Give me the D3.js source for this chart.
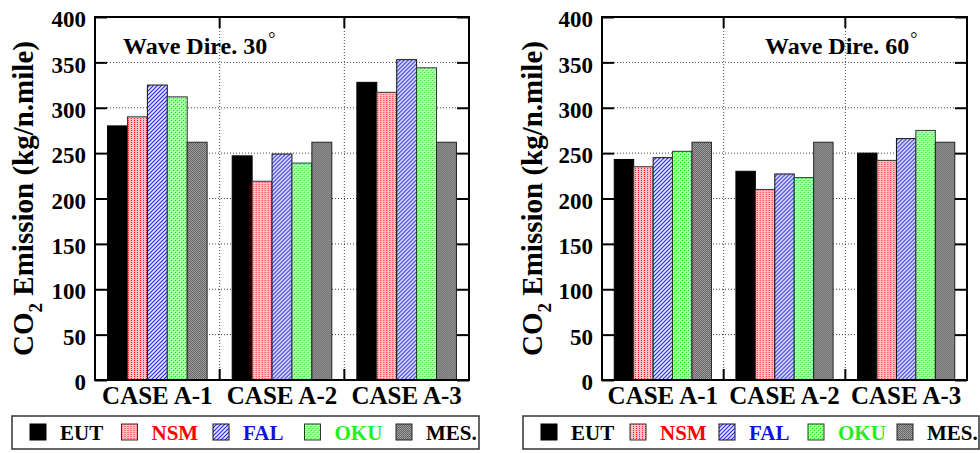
<!DOCTYPE html>
<html lang="en">
<head>
  <meta charset="UTF-8">
  <title>CO2 Emission</title>
  <script src="https://cdn.jsdelivr.net/npm/d3@7/dist/d3.min.js"></script>
  <style>
    body { margin: 0; background: #fff; }
    text { font-family: "Liberation Serif", "Times New Roman", serif; font-weight: bold; }
  </style>
</head>
<body>
  <svg id="chart" width="980" height="453"></svg>
  <script>
    // data
    const cases = ['CASE A-1', 'CASE A-2', 'CASE A-3'];
    const methods = ['EUT', 'NSM', 'FAL', 'OKU', 'MES.'];
    const yTicks = [0, 50, 100, 150, 200, 250, 300, 350, 400];

    const eut30 = [280, 247, 328];
    const nsm30 = [290, 219, 317];
    const fal30 = [325, 249, 353];
    const oku30 = [312, 239, 344];
    const mes30 = [262, 262, 262];

    const eut60 = [243, 230, 250];
    const nsm60 = [235, 210, 242];
    const fal60 = [245, 227, 266];
    const oku60 = [252, 223, 275];
    const mes60 = [262, 262, 262];

    const textColors = ['#000', '#ff0000', '#1010e0', '#22ee22', '#000'];

    const svg = d3.select('#chart');
    const defs = svg.append('defs');

    // fill patterns
    let p = defs.append('pattern').attr('id', 'pNSM').attr('patternUnits', 'userSpaceOnUse')
      .attr('width', 3).attr('height', 2);
    p.append('rect').attr('width', 3).attr('height', 2).attr('fill', '#ffc0c0');
    p.append('rect').attr('width', 1).attr('height', 1).attr('fill', '#ff2020');

    p = defs.append('pattern').attr('id', 'pFAL').attr('patternUnits', 'userSpaceOnUse')
      .attr('width', 4).attr('height', 4);
    p.append('rect').attr('width', 4).attr('height', 4).attr('fill', '#e4e4ff');
    p.append('path').attr('d', 'M-1,1 l2,-2 M0,4 l4,-4 M3,5 l2,-2')
      .attr('stroke', '#2828e8').attr('stroke-width', 1.1);

    p = defs.append('pattern').attr('id', 'pOKU').attr('patternUnits', 'userSpaceOnUse')
      .attr('width', 4).attr('height', 4);
    p.append('rect').attr('width', 4).attr('height', 4).attr('fill', '#9cff9c');
    p.append('rect').attr('x', 0).attr('y', 0).attr('width', 1).attr('height', 1).attr('fill', '#20e020');
    p.append('rect').attr('x', 2).attr('y', 2).attr('width', 1).attr('height', 1).attr('fill', '#20e020');
    p.append('rect').attr('x', 1).attr('y', 1).attr('width', 1).attr('height', 1).attr('fill', '#e8ffe8');
    p.append('rect').attr('x', 3).attr('y', 3).attr('width', 1).attr('height', 1).attr('fill', '#e8ffe8');

    p = defs.append('pattern').attr('id', 'pMES').attr('patternUnits', 'userSpaceOnUse')
      .attr('width', 2).attr('height', 2);
    p.append('rect').attr('width', 2).attr('height', 2).attr('fill', '#646464');
    p.append('rect').attr('width', 1).attr('height', 1).attr('fill', '#a4a4a4');
    p.append('rect').attr('x', 1).attr('y', 1).attr('width', 1).attr('height', 1).attr('fill', '#9c9c9c');

    const fills = ['#000', 'url(#pNSM)', 'url(#pFAL)', 'url(#pOKU)', 'url(#pMES)'];
    const strokes = ['#000', '#333', '#111', '#333', '#222'];

    function drawPanel(args) {
      const left = args.left, right = args.right, top = 17, bottom = 380;
      const series = args.series;
      const g = svg.append('g');

      const x = d3.scaleBand().domain(cases).range([left, right]).padding(0);
      const xi = d3.scaleBand().domain(methods).range([0, x.bandwidth()])
        .paddingInner(0).paddingOuter(0.63);
      const y = d3.scaleLinear().domain([0, 400]).range([bottom, top]);

      // dotted grid
      const grid = g.append('g').attr('stroke', '#444').attr('stroke-dasharray', '1,2').attr('stroke-width', 1);
      grid.selectAll('line.h').data(yTicks.filter(d => d > 0 && d < 400)).enter().append('line')
        .attr('x1', left + 12).attr('x2', right - 12)
        .attr('y1', d => y(d)).attr('y2', d => y(d));
      const dividers = cases.slice(0, -1).map(c => x(c) + x.bandwidth());
      grid.selectAll('line.v').data(dividers).enter().append('line')
        .attr('x1', d => d).attr('x2', d => d)
        .attr('y1', top + 11).attr('y2', bottom - 11);

      // bars
      cases.forEach((c, ci) => {
        const grp = g.append('g').attr('transform', `translate(${x(c)},0)`);
        grp.selectAll('rect').data(methods).enter().append('rect')
          .attr('x', d => xi(d))
          .attr('width', xi.bandwidth())
          .attr('y', (d, i) => y(series[i][ci]))
          .attr('height', (d, i) => bottom - y(series[i][ci]))
          .attr('fill', (d, i) => fills[i])
          .attr('stroke', (d, i) => strokes[i])
          .attr('stroke-width', 1);
      });

      // axes with inward ticks
      const ya = g.append('g').attr('transform', `translate(${left},0)`)
        .call(d3.axisLeft(y).tickValues(yTicks).tickSize(-12).tickPadding(9));
      ya.select('.domain').remove();
      ya.attr('font-family', null);
      ya.selectAll('line').attr('stroke', '#000').attr('stroke-width', 2);
      ya.selectAll('text').attr('font-size', 23).attr('fill', '#000').attr('dy', '0.42em');

      const yr = g.append('g').attr('transform', `translate(${right},0)`)
        .call(d3.axisRight(y).tickValues(yTicks).tickSize(-12).tickFormat(''));
      yr.select('.domain').remove();
      yr.selectAll('line').attr('stroke', '#000').attr('stroke-width', 2);

      g.selectAll('line.tt').data(dividers).enter().append('line')
        .attr('x1', d => d).attr('x2', d => d).attr('y1', top).attr('y2', top + 11)
        .attr('stroke', '#000').attr('stroke-width', 2);
      g.selectAll('line.bt').data(dividers).enter().append('line')
        .attr('x1', d => d).attr('x2', d => d).attr('y1', bottom).attr('y2', bottom - 11)
        .attr('stroke', '#000').attr('stroke-width', 2);

      // frame
      g.append('rect').attr('x', left).attr('y', top)
        .attr('width', right - left).attr('height', bottom - top)
        .attr('fill', 'none').attr('stroke', '#000').attr('stroke-width', 2);

      // category labels
      g.selectAll('text.cat').data(cases).enter().append('text')
        .attr('x', d => x(d) + x.bandwidth() / 2).attr('y', 404)
        .attr('text-anchor', 'middle').attr('font-size', 25).text(d => d);

      // title
      const t = g.append('text').attr('x', args.titleX).attr('y', 54).attr('font-size', 24);
      t.append('tspan').text(args.title);
      t.append('tspan').attr('dy', -9).attr('dx', 1).attr('font-size', 18)
        .attr('font-weight', 'normal').text('°');

      // y label
      const yl = g.append('text')
        .attr('transform', `translate(${args.labelX},${(top + bottom) / 2}) rotate(-90)`)
        .attr('text-anchor', 'middle').attr('font-size', 29);
      yl.append('tspan').text('CO');
      yl.append('tspan').attr('dy', 9).attr('font-size', 19).text('2');
      yl.append('tspan').attr('dy', -9).text(' Emission (kg/n.mile)');

      // legend
      const lg = g.append('g');
      lg.append('rect').attr('x', args.legLeft).attr('y', 416)
        .attr('width', args.legRight - args.legLeft).attr('height', 33)
        .attr('fill', '#fff').attr('stroke', '#333').attr('stroke-width', 1.5);
      const items = lg.selectAll('g.item').data(methods).enter().append('g')
        .attr('transform', (d, i) => `translate(${args.legLeft + 18 + i * args.legStep},0)`);
      items.append('rect').attr('x', 0).attr('y', 424).attr('width', 16).attr('height', 16)
        .attr('fill', (d, i) => fills[i]).attr('stroke', (d, i) => strokes[i]).attr('stroke-width', 1);
      items.append('text').attr('x', 30).attr('y', 440).attr('font-size', 21)
        .attr('fill', (d, i) => textColors[i]).text(d => d);
    }

    drawPanel({
      left: 95, right: 469, titleX: 123, title: 'Wave Dire. 30', labelX: 33,
      legLeft: 12, legRight: 479, legStep: 91.5,
      series: [eut30, nsm30, fal30, oku30, mes30]
    });
    drawPanel({
      left: 602, right: 967, titleX: 765, title: 'Wave Dire. 60', labelX: 542,
      legLeft: 523, legRight: 979, legStep: 89,
      series: [eut60, nsm60, fal60, oku60, mes60]
    });
  </script>
</body>
</html>
